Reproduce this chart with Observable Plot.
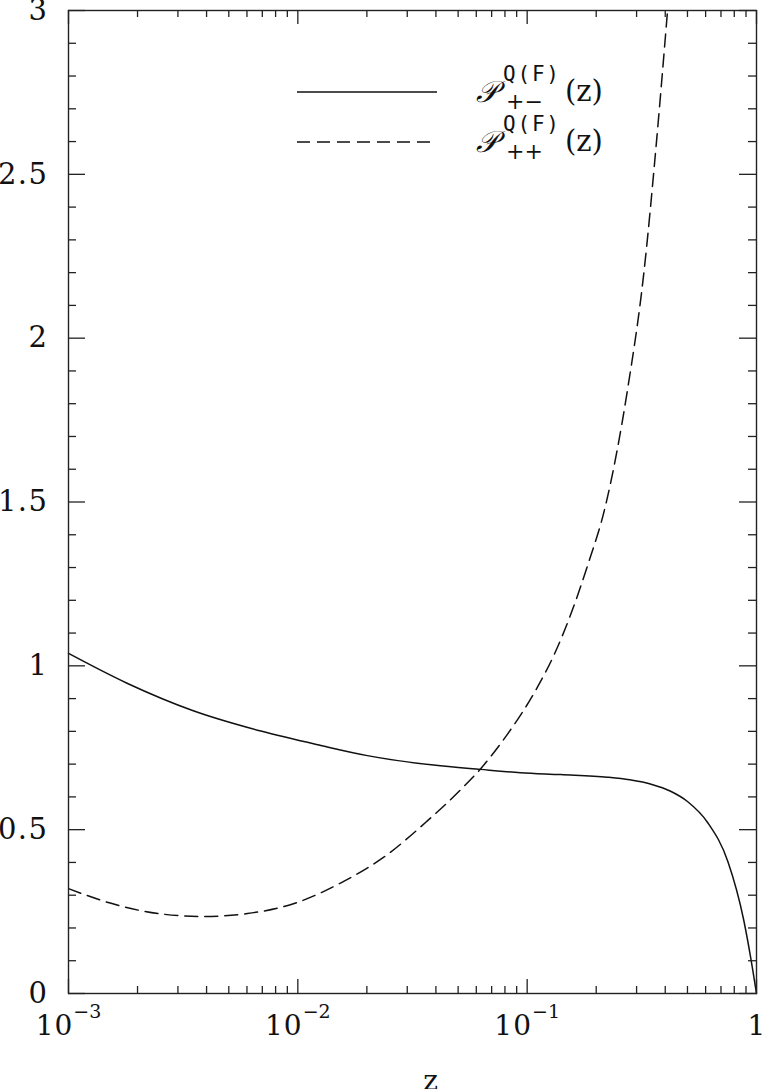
<!DOCTYPE html>
<html>
<head>
<meta charset="utf-8">
<script src="https://cdn.jsdelivr.net/npm/d3@7"></script>
<script src="https://cdn.jsdelivr.net/npm/@observablehq/plot@0.6"></script>
<style>
  html, body { margin: 0; padding: 0; background: #fff; }
  #wrap { position: relative; width: 762px; height: 1089px; overflow: hidden; }
  #legend { position: absolute; left: 0; top: 0; }
</style>
</head>
<body>
<div id="wrap"></div>
<script>
// ---- data ----
const seriesNames = ["+−", "++"];
const seriesDash = ["none", "13,7"];

const solidZ = [0.001, 0.0018, 0.0035, 0.0069, 0.0126, 0.0201, 0.0391, 0.0626, 0.0936, 0.14, 0.224, 0.28, 0.35, 0.42, 0.5, 0.612, 0.75, 0.879, 0.942, 1.0];
const solidP = [1.038, 0.947, 0.863, 0.801, 0.757, 0.726, 0.697, 0.684, 0.674, 0.668, 0.660, 0.652, 0.638, 0.618, 0.586, 0.522, 0.403, 0.225, 0.112, 0.0];

const dashZ = [0.001, 0.00152, 0.00252, 0.00388, 0.00603, 0.00957, 0.01535, 0.0237, 0.0366, 0.0513, 0.0627, 0.0818, 0.1107, 0.1309, 0.1545, 0.1828, 0.2198, 0.2735, 0.3228, 0.3664, 0.4083];
const dashP = [0.320, 0.276, 0.243, 0.235, 0.244, 0.274, 0.337, 0.416, 0.526, 0.622, 0.686, 0.790, 0.934, 1.033, 1.155, 1.303, 1.490, 1.840, 2.200, 2.600, 2.990];

const xMajor = [0.001, 0.01, 0.1, 1];
const xMantissa = [2, 3, 4, 5, 6, 7, 8, 9];
const yMajor = [0, 0.5, 1, 1.5, 2, 2.5, 3];
const yMinor = [0.1,0.2,0.3,0.4,0.6,0.7,0.8,0.9,1.1,1.2,1.3,1.4,1.6,1.7,1.8,1.9,2.1,2.2,2.3,2.4,2.6,2.7,2.8,2.9];

// ---- derived tables ----
const xMinor = [];
for (const dec of [0.001, 0.01, 0.1]) for (const m of xMantissa) xMinor.push(+(m * dec).toPrecision(3));
const solid = solidZ.map((z, i) => ({z, p: solidP[i]}));
const dashed = dashZ.map((z, i) => ({z, p: dashP[i]}));

const W = 762, H = 1089, MT = 10, MB = 96, ML = 68, MR = 6;
const PH = H - MT - MB, PW = W - ML - MR;
const serif = "DejaVu Serif";
const ink = "#111";
const axisInk = "#222";

const chart = Plot.plot({
  width: W, height: H,
  marginTop: MT, marginBottom: MB, marginLeft: ML, marginRight: MR,
  x: {type: "log", domain: [0.001, 1]},
  y: {domain: [0, 3]},
  style: {fontFamily: serif, fontSize: "28px", color: ink, background: "#fff"},
  marks: [
    Plot.line(solid, {x: "z", y: "p", curve: "monotone-x", stroke: ink, strokeWidth: 1.5}),
    Plot.line(dashed, {x: "z", y: "p", curve: "monotone-x", stroke: ink, strokeWidth: 1.5, strokeDasharray: "13,7", clip: true}),
    // inward ticks, bottom and top
    Plot.tickX(xMinor, {x: d => d, insetTop: PH - 7, stroke: axisInk, strokeWidth: 1.3}),
    Plot.tickX(xMinor, {x: d => d, insetBottom: PH - 7, stroke: axisInk, strokeWidth: 1.3}),
    Plot.tickX(xMajor, {x: d => d, insetTop: PH - 14, stroke: axisInk, strokeWidth: 1.3}),
    Plot.tickX(xMajor, {x: d => d, insetBottom: PH - 14, stroke: axisInk, strokeWidth: 1.3}),
    // inward ticks, left and right
    Plot.tickY(yMinor, {y: d => d, insetRight: PW - 8, stroke: axisInk, strokeWidth: 1.3}),
    Plot.tickY(yMinor, {y: d => d, insetLeft: PW - 8, stroke: axisInk, strokeWidth: 1.3}),
    Plot.tickY(yMajor, {y: d => d, insetRight: PW - 17, stroke: axisInk, strokeWidth: 1.3}),
    Plot.tickY(yMajor, {y: d => d, insetLeft: PW - 17, stroke: axisInk, strokeWidth: 1.3}),
    Plot.frame({stroke: axisInk, strokeWidth: 1.4}),
    Plot.axisY({ticks: yMajor, tickSize: 0, tickPadding: 20, tickFormat: d => String(d), label: null, fontSize: 29}),
    Plot.axisX({ticks: xMajor, tickSize: 0, tickPadding: 22, label: null, fontSize: 28,
      tickFormat: d => d === 1 ? "1" : "10^" + Math.round(Math.log10(d))}),
    Plot.text(["z"], {text: d => d, frameAnchor: "bottom", dx: 18, dy: 77, lineAnchor: "top", fontSize: 28})
  ]
});

// rich text for the decade labels: 10 with a raised exponent
d3.select(chart).selectAll("g[aria-label='x-axis tick label'] text").each(function () {
  const s = this.textContent;
  if (!s.includes("^")) return;
  const [base, exp] = s.split("^");
  const t = d3.select(this);
  t.text(null);
  t.append("tspan").attr("letter-spacing", 1).text(base);
  t.append("tspan").attr("dy", -17).attr("font-size", 19).text(exp.replace("-", "−"));
});
d3.select(chart).selectAll("g[aria-label='y-axis tick label'] text").attr("letter-spacing", 1.5);

const wrap = document.getElementById("wrap");
wrap.appendChild(chart);

// ---- legend (overlay) ----
const leg = d3.select(wrap).append("svg").attr("id", "legend")
  .attr("width", W).attr("height", 200);
seriesNames.forEach((name, i) => {
  const y0 = 92 + 50 * i;
  leg.append("line").attr("x1", 297).attr("x2", 437).attr("y1", y0).attr("y2", y0)
    .attr("stroke", ink).attr("stroke-width", 1.5)
    .attr("stroke-dasharray", seriesDash[i]);
  leg.append("text").attr("x", 476).attr("y", y0 + 10)
    .attr("font-family", "DejaVu Serif, Noto Sans, serif").attr("font-size", 30)
    .attr("font-style", "italic").attr("fill", ink).text("𝒫");
  leg.append("text").attr("x", 503).attr("y", y0 - 11)
    .attr("font-family", "DejaVu Sans Mono").attr("font-size", 21)
    .attr("textLength", 56).attr("lengthAdjust", "spacing")
    .attr("fill", ink).text("Q(F)");
  leg.append("text").attr("x", 506).attr("y", y0 + 17)
    .attr("font-family", serif).attr("font-size", 22).attr("fill", ink).text(name);
  leg.append("text").attr("x", 565).attr("y", y0 + 9)
    .attr("font-family", serif).attr("font-size", 29).attr("fill", ink).text("(z)");
});
</script>
</body>
</html>
